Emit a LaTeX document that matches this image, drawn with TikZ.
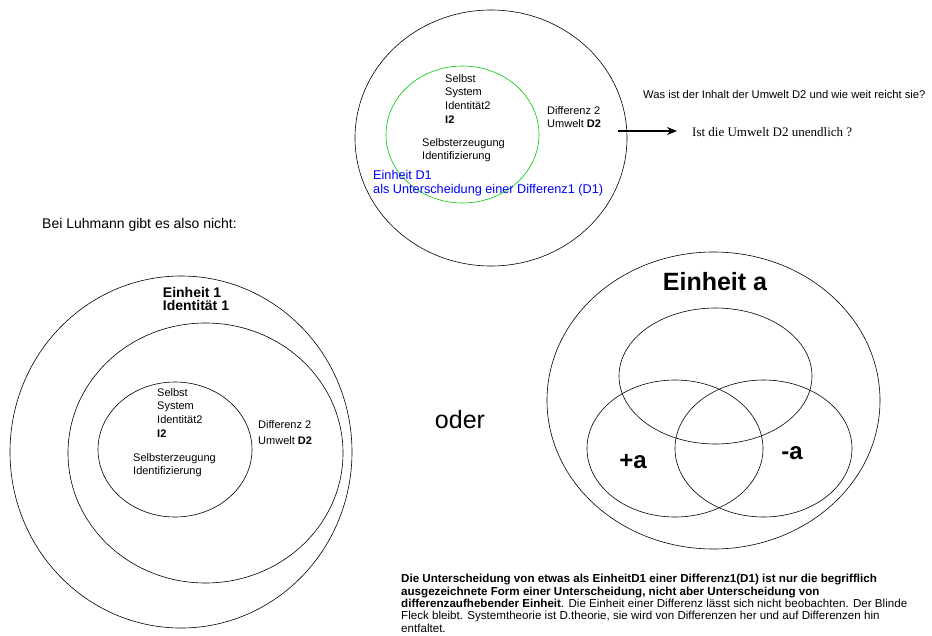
\documentclass[tikz,border=0pt]{standalone}
\usepackage{fontspec}
\setmainfont{Liberation Sans}
\newfontfamily\timesfont{Liberation Serif}
\usetikzlibrary{shapes.geometric,arrows.meta}

\definecolor{kreisgruen}{RGB}{0,200,0}
\definecolor{textblau}{RGB}{0,0,255}

\tikzset{
  ring/.style={draw, ellipse, line width=0.6pt, inner sep=0pt},
  label/.style={anchor=north west, align=left, inner sep=0pt,
    font=\fontsize{11}{13.8}\selectfont},
  gross/.style={inner sep=0pt, font=\fontsize{25}{28}\selectfont\bfseries},
}

\begin{document}
\begin{tikzpicture}[x=1pt, y=-1pt]
  \useasboundingbox (0,0) rectangle (932,635);

  % oben: System mit Umwelt
  \node[ring, minimum width=272pt, minimum height=256pt] (aussen) at (491,138) {};
  \node[ring, draw=kreisgruen, minimum width=153pt, minimum height=137pt] (gruen) at (462.5,134.5) {};
  \node[label] (selbst) at (445,74) {Selbst\\System\\Identität2\\\textbf{I2}};
  \node[label] (erzeug) at (422,138) {Selbsterzeugung\\Identifizierung};
  \node[label] (umwelt) at (547,106) {Differenz 2\\Umwelt \textbf{D2}};
  \node[label, text=textblau, font=\fontsize{12.7}{14}\selectfont] (einheitD) at (373,170) {Einheit D1\\als Unterscheidung einer Differenz1 (D1)};

  % Frage nach der Umwelt
  \node[label, font=\fontsize{11.2}{13.8}\selectfont] (frage) at (643,90) {Was ist der Inhalt der Umwelt D2 und wie weit reicht sie?};
  \node[anchor=west, inner sep=0pt, font=\timesfont\fontsize{13}{15}\selectfont] (unendlich) at (692,132) {Ist die Umwelt D2 unendlich ?};
  \coordinate (pfeilstart) at (618,131);
  \coordinate (pfeilende) at (677,131);
  \draw[line width=2pt, -{Stealth[length=10pt, width=8pt]}] (pfeilstart) -- (pfeilende);

  \node[anchor=west, inner sep=0pt, font=\fontsize{14}{16}\selectfont] (luhmann) at (42,225) {Bei Luhmann gibt es also nicht:};

  % unten links: drei Kreise
  \node[ring, minimum width=342pt, minimum height=352pt] (einheit1) at (181,452) {};
  \node[ring, minimum width=275pt, minimum height=260pt] (mitte) at (205.5,453) {};
  \node[ring, minimum width=154pt, minimum height=135pt] (innen) at (175,449.5) {};
  \node[inner sep=0pt, align=left, font=\fontsize{14}{12.7}\selectfont\bfseries] (ident1) at (196,299) {Einheit 1\\Identität 1};
  \node[label] (selbst2) at (157,388) {Selbst\\System\\Identität2\\\textbf{I2}};
  \node[label] (erzeug2) at (133,453) {Selbsterzeugung\\Identifizierung};
  \node[label, font=\fontsize{11}{16.5}\selectfont] (umwelt2) at (258,420) {Differenz 2\\Umwelt \textbf{D2}};

  \node[inner sep=0pt, font=\fontsize{25}{28}\selectfont] (oder) at (460,420) {oder};

  % unten rechts: Einheit a
  \node[ring, minimum width=333pt, minimum height=297pt] (einheitA) at (713.5,400.5) {};
  \node[ring, minimum width=193pt, minimum height=136pt] (obenA) at (715.5,376) {};
  \node[ring, minimum width=176pt, minimum height=137pt] (plusA) at (675,448.5) {};
  \node[ring, minimum width=177pt, minimum height=137pt] (minusA) at (763.5,448.5) {};
  \node[gross] (titelA) at (715,282) {Einheit a};
  \node[gross, font=\fontsize{24}{28}\selectfont\bfseries] (plus) at (633,462) {+a};
  \node[gross, font=\fontsize{24}{28}\selectfont\bfseries] (minus) at (792,453) {-a};

  % Erklaerung
  \node[anchor=north west, align=left, inner sep=0pt, font=\fontsize{11.6}{12.4}\selectfont] (text) at (401,574)
    {\textbf{Die Unterscheidung von etwas als EinheitD1 einer Differenz1(D1) ist nur die begrifflich}\\
     \textbf{ausgezeichnete Form einer Unterscheidung, nicht aber Unterscheidung von}\\
     \textbf{differenzaufhebender Einheit}. Die Einheit einer Differenz lässt sich nicht beobachten. Der Blinde\\
     Fleck bleibt. Systemtheorie ist D.theorie, sie wird von Differenzen her und auf Differenzen hin\\
     entfaltet.};
\end{tikzpicture}
\end{document}
